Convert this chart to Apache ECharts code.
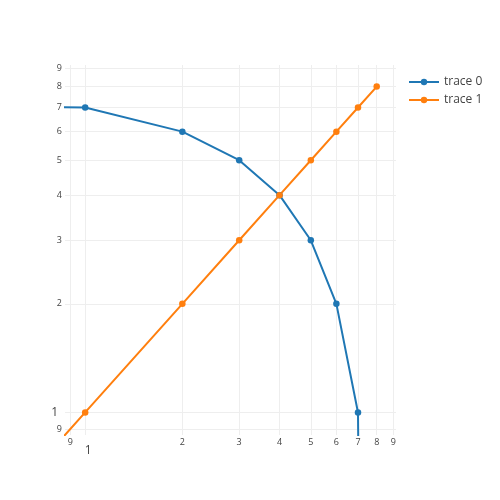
<!DOCTYPE html>
<html><head><meta charset="utf-8">
<script src="https://cdn.jsdelivr.net/npm/echarts@6/dist/echarts.min.js"></script>
<style>html,body{margin:0;padding:0;background:#fff}#c{width:500px;height:500px}</style>
</head><body><div id="c"></div>
<script>
// Plotly drew 0 values on log axes toward the plot edge; a tiny stand-in value reproduces that.
const ZERO = 1e-6;
const trace0X = [ZERO, 1, 2, 3, 4, 5, 6, 7, 8];
const trace0Y = [8, 7, 6, 5, 4, 3, 2, 1, ZERO];
const trace1X = [ZERO, 1, 2, 3, 4, 5, 6, 7, 8];
const trace1Y = [ZERO, 1, 2, 3, 4, 5, 6, 7, 8];
const tickValues = [0.9, 1, 2, 3, 4, 5, 6, 7, 8, 9];
const tickLabels = ['9', '1', '2', '3', '4', '5', '6', '7', '8', '9'];
const seriesNames = ['trace 0', 'trace 1'];
const colors = ['#1f77b4', '#ff7f0e'];
const axisMin = 0.866, axisMax = 9.18;

function fmt(v) {
  let idx = tickValues.findIndex(t => Math.abs(t - v) < 1e-6);
  if (idx < 0) return '';
  return idx === 1 ? '{big|' + tickLabels[idx] + '}' : tickLabels[idx];
}
function axis(isX) {
  return {
    type: 'log', logBase: 10, min: axisMin, max: axisMax,
    axisLine: {show: false}, axisTick: {show: false, customValues: tickValues},
    splitLine: {show: true, lineStyle: {color: '#eeeeee', width: 1}},
    axisLabel: {
      customValues: tickValues, formatter: fmt, color: '#444', fontFamily: 'Open Sans', fontSize: 9,
      margin: 3,
      rich: { big: isX ? {fontSize: 12, color: '#444', fontFamily: 'Open Sans', padding: [7, 0, 0, 6]}
                       : {fontSize: 12, color: '#444', fontFamily: 'Open Sans', padding: [0, 4, 0, 0]} }
    }
  };
}
const chart = echarts.init(document.getElementById('c'), null, {renderer: 'canvas'});
chart.setOption({
  animation: false,
  color: colors,
  grid: {left: 65, right: 104, top: 65, bottom: 65, containLabel: false},
  xAxis: axis(true),
  yAxis: axis(false),
  legend: {
    left: 403, top: 71, orient: 'vertical', itemWidth: 30, itemHeight: 8, itemGap: 6,
    textStyle: {fontFamily: 'Open Sans', fontSize: 12, color: '#444'},
    data: seriesNames
  },
  series: [
    {name: seriesNames[0], type: 'line', data: trace0X.map((x, i) => [x, trace0Y[i]]),
     symbol: 'circle', symbolSize: 6.5, lineStyle: {width: 2}, itemStyle: {color: colors[0]}},
    {name: seriesNames[1], type: 'line', data: trace1X.map((x, i) => [x, trace1Y[i]]),
     symbol: 'circle', symbolSize: 6.5, lineStyle: {width: 2}, itemStyle: {color: colors[1]}}
  ]
});
</script></body></html>
